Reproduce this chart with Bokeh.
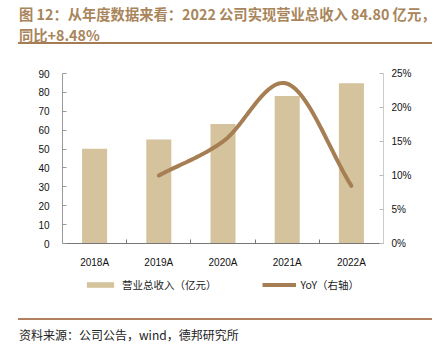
import numpy as np
from bokeh.plotting import figure
from bokeh.layouts import column
from bokeh.models import (Range1d, LinearAxis, FixedTicker, PrintfTickFormatter,
                          Legend, LegendItem, ColumnDataSource, Div)
from bokeh.embed import file_html
from bokeh.resources import INLINE

# ---- data ----
years = ["2018A", "2019A", "2020A", "2021A", "2022A"]
revenue = [50.2, 55.0, 63.3, 78.1, 84.80]          # 亿元
yoy_years = ["2019A", "2020A", "2021A", "2022A"]
yoy = [10.0, 15.0, 23.5, 8.48]                      # %
left_ticks = [0, 10, 20, 30, 40, 50, 60, 70, 80, 90]
right_ticks = [0, 5, 10, 15, 20, 25]

title1 = "图 12：从年度数据来看：2022 公司实现营业总收入 84.80 亿元，"
title2 = "同比+8.48%"
source_text = "资料来源：公司公告，wind，德邦研究所"
bar_label = "营业总收入（亿元）"
line_label = "YoY（右轴）"

BAR = "#d4c39c"
LINE = "#a67e53"
TITLE_C = "#a9855b"
CJK = "Noto Sans CJK SC"
LAT = "Liberation Sans"

W = 437
H_TOP = 46          # title band   0..46
H_CHART = 224       # chart band  46..270
H_LEG = 30          # legend band 270..300
H_SRC = 356 - H_TOP - H_CHART - H_LEG
FL, FR, FT, FB = 62, 383, 73, 245   # frame edges in page pixels

# ---- title (HTML text) ----
title_html = (
    f"<div style=\"position:relative;margin-left:18px;width:414px;height:44px;"
    f"border-bottom:2px solid #a47b53;font-family:'{CJK}';font-size:14.3px;font-weight:bold;"
    f"color:{TITLE_C};line-height:21px;\">"
    f"<div style=\"position:absolute;left:1px;top:3px;white-space:nowrap;\">{title1}</div>"
    f"<div style=\"position:absolute;left:1px;top:24px;white-space:nowrap;\">{title2}</div></div>"
)
top = Div(text=title_html, width=W, height=H_TOP, margin=0)

# ---- chart ----
p = figure(width=W, height=H_CHART, output_backend="svg", toolbar_location=None, tools="",
           x_range=Range1d(-0.5, len(years) - 0.5), y_range=Range1d(0, 90),
           min_border_left=FL, min_border_right=W - FR, min_border_top=FT - H_TOP,
           min_border_bottom=H_TOP + H_CHART - FB, outline_line_color=None)
p.xaxis.visible = False
p.yaxis.visible = False
p.grid.visible = False
p.extra_y_ranges = {"yoy": Range1d(0, 25)}

xi = np.arange(len(years))
src = ColumnDataSource(dict(x=xi, top=revenue))
p.vbar(x="x", top="top", width=0.39, source=src, fill_color=BAR, line_color=None)

# smooth line (Catmull-Rom through the data points, drawing only)
px = np.array([years.index(y) for y in yoy_years], dtype=float)
py = np.array(yoy, dtype=float)
ext_x = np.concatenate([[2 * px[0] - px[1]], px, [2 * px[-1] - px[-2]]])
ext_y = np.concatenate([[2 * py[0] - py[1]], py, [2 * py[-1] - py[-2]]])
sx, sy = [], []
t = np.linspace(0, 1, 40)
for i in range(1, len(ext_x) - 2):
    for arr, out in ((ext_x, sx), (ext_y, sy)):
        p0, p1, p2, p3 = arr[i - 1], arr[i], arr[i + 1], arr[i + 2]
        out.extend(0.5 * ((2 * p1) + (-p0 + p2) * t + (2 * p0 - 5 * p1 + 4 * p2 - p3) * t ** 2
                          + (-p0 + 3 * p1 - 3 * p2 + p3) * t ** 3))
p.line(sx, sy, y_range_name="yoy", line_color=LINE, line_width=4, line_cap="round")

xa = LinearAxis(ticker=FixedTicker(ticks=list(xi), minor_ticks=list(xi[:-1] + 0.5)),
                major_label_overrides={int(i): y for i, y in zip(xi, years)})
xa.major_tick_line_color = None
xa.minor_tick_in = 4
xa.minor_tick_out = 0
xa.minor_tick_line_color = "#777777"
xa.axis_line_color = "#777777"
xa.major_label_text_font = LAT
xa.major_label_text_font_size = "10px"
xa.major_label_text_color = "#111111"
xa.major_label_standoff = 7
p.add_layout(xa, "below")

la = LinearAxis(ticker=FixedTicker(ticks=left_ticks))
la.major_tick_in = 4
la.major_tick_out = 0
la.major_tick_line_color = "#999999"
la.axis_line_color = "#999999"
la.minor_tick_line_color = None
la.major_label_text_font = LAT
la.major_label_text_font_size = "10px"
la.major_label_text_color = "#111111"
la.major_label_standoff = 13
p.add_layout(la, "left")

ra = LinearAxis(y_range_name="yoy", ticker=FixedTicker(ticks=right_ticks),
                formatter=PrintfTickFormatter(format="%d%%"))
ra.major_tick_in = 4
ra.major_tick_out = 0
ra.major_tick_line_color = "#bbbbbb"
ra.axis_line_color = "#cccccc"
ra.minor_tick_line_color = None
ra.major_label_text_font = LAT
ra.major_label_text_font_size = "10px"
ra.major_label_text_color = "#111111"
ra.major_label_standoff = 8
p.add_layout(ra, "right")

# ---- legend band (frame aligned with the chart frame) ----
pl = figure(width=W, height=H_LEG, output_backend="svg", toolbar_location=None, tools="",
            x_range=Range1d(0, 1), y_range=Range1d(0, 1),
            min_border_left=FL, min_border_right=W - FR, min_border_top=0, min_border_bottom=0,
            outline_line_color=None)
pl.xaxis.visible = False
pl.yaxis.visible = False
pl.grid.visible = False
# zero-size proxies, used only for the legend keys
key_bar = pl.vbar(x=[0], top=[0], width=0, fill_color=BAR, line_color=None)
key_line = pl.line(x=[0], y=[0], line_color=LINE, line_width=4)
legend = Legend(items=[LegendItem(label=bar_label, renderers=[key_bar]),
                       LegendItem(label=line_label, renderers=[key_line])],
                orientation="horizontal", location=(21, 8),
                glyph_width=34, glyph_height=7, spacing=45, padding=2, margin=0,
                label_text_font=CJK, label_text_font_size="10.5px", label_height=14,
                label_text_color="#222222", background_fill_alpha=0,
                border_line_color=None, label_standoff=5)
pl.add_layout(legend, "center")

# ---- source (HTML text) ----
source_html = (
    f"<div style=\"margin-left:18px;margin-top:18px;width:414px;border-top:2px solid #b47f5f;"
    f"font-family:'{CJK}';font-size:12px;color:#222222;line-height:16px;\">"
    f"<div style=\"padding-left:1px;padding-top:7px;white-space:nowrap;\">{source_text}</div></div>"
)
bottom = Div(text=source_html, width=W, height=H_SRC, margin=0)

layout = column(top, p, pl, bottom, spacing=0)
open("out.html", "w").write(file_html(layout, INLINE))
